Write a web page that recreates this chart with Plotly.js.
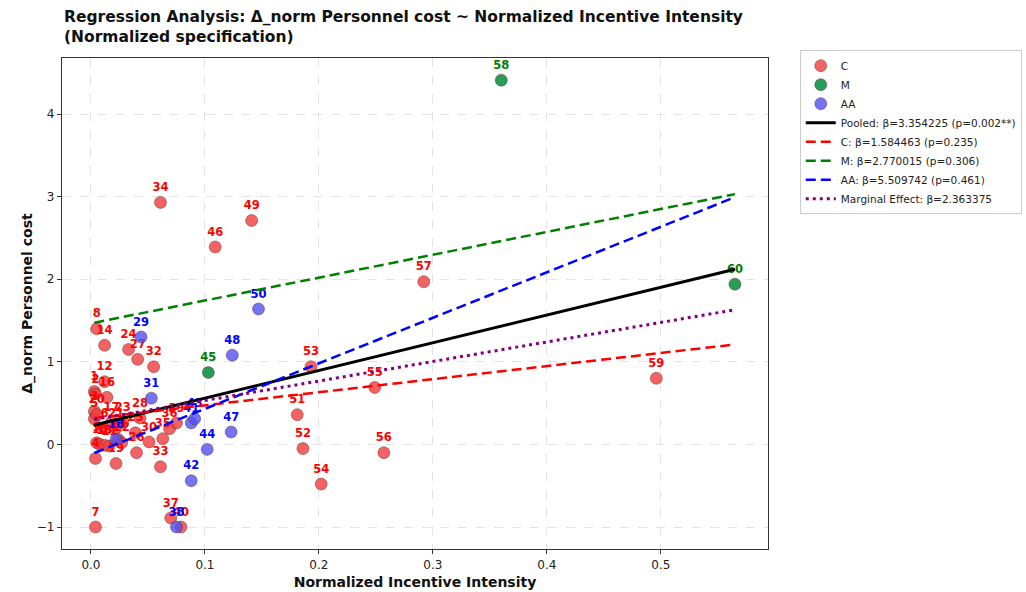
<!DOCTYPE html>
<html>
<head>
<meta charset="utf-8">
<script src="https://cdn.plot.ly/plotly-3.0.1.min.js"></script>
<style>html,body{margin:0;padding:0;background:#fff;}#chart{width:1026px;height:592px;}</style>
</head>
<body>
<div id="chart"></div>
<script>
// Group C
const cIds = [1,2,3,4,5,6,7,8,9,10,11,12,13,14,15,16,17,19,20,21,22,23,24,25,26,27,28,30,32,33,34,35,36,37,39,40,46,49,51,52,53,54,55,56,57,59];
const cX = [0.003,0.004,0.003,0.004,0.003,0.012,0.004,0.005,0.005,0.008,0.016,0.012,0.024,0.012,0.012,0.014,0.018,0.022,0.005,0.022,0.027,0.028,0.033,0.039,0.040,0.041,0.043,0.051,0.055,0.061,0.061,0.063,0.069,0.070,0.075,0.079,0.109,0.141,0.181,0.186,0.193,0.202,0.249,0.257,0.292,0.496];
const cY = [0.64,0.61,0.40,-0.17,0.31,0.19,-1.00,1.40,0.02,0.00,-0.02,0.76,0.06,1.20,-0.01,0.57,0.27,-0.23,0.36,0.20,0.02,0.27,1.15,0.14,-0.10,1.03,0.32,0.03,0.94,-0.27,2.93,0.07,0.19,-0.89,0.26,-1.00,2.39,2.71,0.36,-0.05,0.94,-0.48,0.69,-0.10,1.97,0.80];
// Group M
const mIds = [45,58,60];
const mX = [0.103,0.360,0.565];
const mY = [0.87,4.41,1.94];
// Group AA
const aaIds = [18,29,31,38,41,42,43,44,47,48,50];
const aaX = [0.022,0.044,0.053,0.075,0.088,0.088,0.091,0.102,0.123,0.124,0.147];
const aaY = [0.06,1.30,0.56,-1.00,0.26,-0.44,0.31,-0.06,0.15,1.08,1.64];

// Regression fits (slope, intercept)
const fitNames = ["Pooled: β=3.354225 (p=0.002**)","C: β=1.584463 (p=0.235)","M: β=2.770015 (p=0.306)","AA: β=5.509742 (p=0.461)","Marginal Effect: β=2.363375"];
const fitSlopes = [3.354225,1.584463,2.770015,5.509742,2.363375];
const fitIntercepts = [0.225,0.315,1.465,-0.12,0.295];
const fitXRange = [0.003,0.565];

const lineStyles = [
  {color:'#000000', dash:'solid', width:3},
  {color:'#ff0000', dash:'10px,5px', width:2.5},
  {color:'#008000', dash:'10px,5px', width:2.5},
  {color:'#0000ff', dash:'10px,5px', width:2.5},
  {color:'#800080', dash:'3px,4px', width:3}
];

function pts(ids, xs, ys, name, fill, txtColor){
  return {
    type:'scatter', mode:'markers+text', name:name,
    x:xs, y:ys, text:ids.map(String), textposition:'top center',
    textfont:{family:'DejaVu Sans', size:11.5, color:txtColor, weight:'bold'},
    marker:{size:12, color:fill, line:{color:'rgba(90,40,40,0.55)', width:0.8}},
    hoverinfo:'skip'
  };
}

const traces = [
  pts(cIds,cX,cY,'C','rgba(240,60,60,0.8)','#ff0000'),
  pts(mIds,mX,mY,'M','rgba(0,140,60,0.85)','#008000'),
  pts(aaIds,aaX,aaY,'AA','rgba(80,80,240,0.8)','#0000ff')
];
for(let i=0;i<fitNames.length;i++){
  traces.push({
    type:'scatter', mode:'lines', name:fitNames[i],
    x:fitXRange, y:fitXRange.map(v=>fitIntercepts[i]+fitSlopes[i]*v),
    line:lineStyles[i], hoverinfo:'skip'
  });
}

const layout = {
  width:1026, height:592,
  margin:{l:62, r:258, t:58, b:43, autoexpand:false},
  paper_bgcolor:'#fff', plot_bgcolor:'#fff',
  font:{family:'DejaVu Sans', color:'#222'},
  annotations:[{
    text:'<b>Regression Analysis: Δ_norm Personnel cost ~ Normalized Incentive Intensity<br>(Normalized specification)</b>',
    font:{size:15.5, color:'#111'}, xref:'paper', yref:'paper', x:0, y:1, xanchor:'left', yanchor:'bottom',
    align:'left', showarrow:false, yshift:10
  }],
  xaxis:{range:[-0.0254,0.594], tickvals:[0,0.1,0.2,0.3,0.4,0.5], ticktext:['0.0','0.1','0.2','0.3','0.4','0.5'],
    showgrid:true, gridcolor:'#e3e3e3', griddash:'dash', gridwidth:1, zeroline:false,
    showline:true, linecolor:'#333', linewidth:1.2, mirror:true, ticks:'outside', ticklen:4, tickcolor:'#333',
    tickfont:{size:12, color:'#222'},
    title:{text:'<b>Normalized Incentive Intensity</b>', font:{size:14, color:'#111'}, standoff:6}},
  yaxis:{range:[-1.266,4.678], tickvals:[-1,0,1,2,3,4], ticktext:['\u22121','0','1','2','3','4'],
    showgrid:true, gridcolor:'#e3e3e3', griddash:'dash', gridwidth:1, zeroline:false,
    showline:true, linecolor:'#333', linewidth:1.2, mirror:true, ticks:'outside', ticklen:4, tickcolor:'#333',
    tickfont:{size:12, color:'#222'},
    title:{text:'<b>Δ_norm Personnel cost</b>', font:{size:14, color:'#111'}, standoff:0}},
  legend:{x:1.045, xanchor:'left', y:1.016, yanchor:'top', bordercolor:'#ccc', borderwidth:1,
    font:{size:10.5, color:'#222'}, bgcolor:'#fff', tracegroupgap:0, itemwidth:30},
  showlegend:true
};

Plotly.newPlot('chart', traces, layout, {staticPlot:true, displayModeBar:false});
</script>
</body>
</html>
